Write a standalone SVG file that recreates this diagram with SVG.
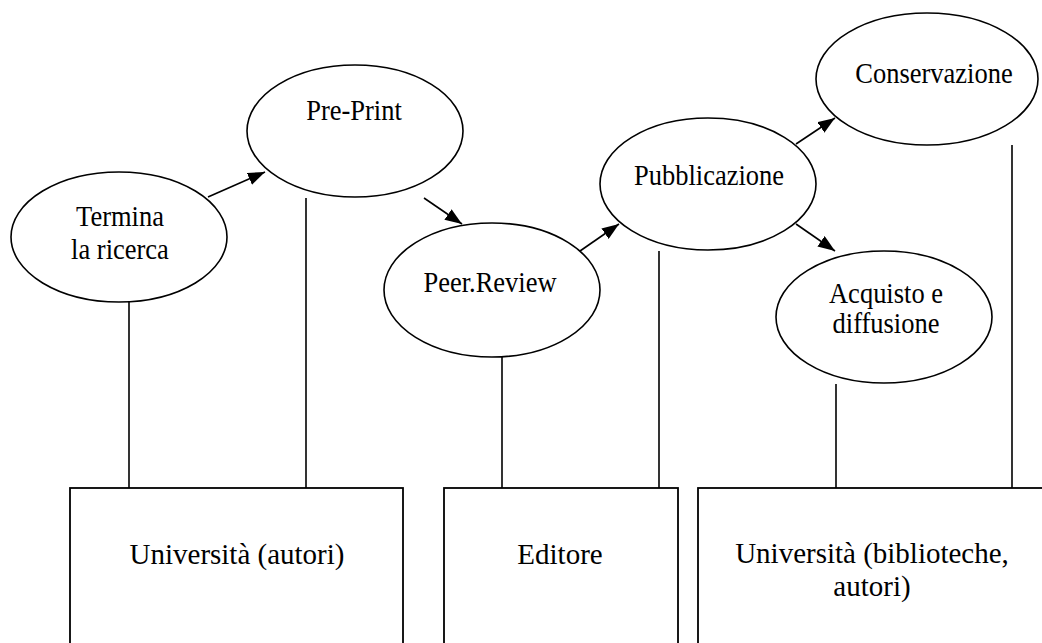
<svg xmlns="http://www.w3.org/2000/svg" width="1042" height="643" viewBox="0 0 1042 643">
<style>
.n{fill:#fff;stroke:#000;stroke-width:1.6}
.b{fill:#fff;stroke:#000;stroke-width:1.8}
.c line{stroke:#000;stroke-width:1.6}
.t{font-family:"Liberation Serif","Times New Roman",serif;font-size:26.5px;fill:#000;text-anchor:middle}
.tb{font-family:"Liberation Serif","Times New Roman",serif;font-size:29px;fill:#000;text-anchor:middle}
</style>
<defs>
<marker id="a" viewBox="0 0 16 12" refX="16" refY="6" markerWidth="17" markerHeight="13" markerUnits="userSpaceOnUse" orient="auto">
<path d="M0,0 L16,6 L0,12 z" fill="#000"/>
</marker>
</defs>
<rect width="1042" height="643" fill="#fff"/>
<g id="connectors" class="c">
<line x1="129" y1="302" x2="129" y2="488"/>
<line x1="306" y1="198" x2="306" y2="488"/>
<line x1="502" y1="357" x2="502" y2="488"/>
<line x1="659" y1="251" x2="659" y2="488"/>
<line x1="836" y1="384" x2="836" y2="488"/>
<line x1="1012" y1="145" x2="1012" y2="488"/>
<line x1="208" y1="197" x2="265" y2="172" marker-end="url(#a)"/>
<line x1="424" y1="198" x2="462" y2="224" marker-end="url(#a)"/>
<line x1="580" y1="251" x2="619" y2="224" marker-end="url(#a)"/>
<line x1="796" y1="144" x2="835" y2="118" marker-end="url(#a)"/>
<line x1="796" y1="224" x2="835" y2="251" marker-end="url(#a)"/>
</g>
<g id="termina">
<ellipse class="n" cx="119" cy="237" rx="108" ry="65"/>
<text class="t" transform="translate(120,226) scale(1,1.1)">Termina</text>
<text class="t" transform="translate(120,259) scale(1,1.1)">la ricerca</text>
</g>
<g id="preprint">
<ellipse class="n" cx="355" cy="131" rx="108" ry="66"/>
<text class="t" transform="translate(354,120) scale(1,1.1)">Pre-Print</text>
</g>
<g id="peerreview">
<ellipse class="n" cx="492" cy="290" rx="108" ry="67"/>
<text class="t" transform="translate(490,292) scale(1,1.1)">Peer.Review</text>
</g>
<g id="pubblicazione">
<ellipse class="n" cx="708" cy="184" rx="108" ry="66"/>
<text class="t" transform="translate(709,185) scale(1,1.1)">Pubblicazione</text>
</g>
<g id="conservazione">
<ellipse class="n" cx="927" cy="79" rx="111" ry="66"/>
<text class="t" transform="translate(934,83) scale(1,1.1)">Conservazione</text>
</g>
<g id="acquisto">
<ellipse class="n" cx="884" cy="317" rx="108" ry="66"/>
<text class="t" transform="translate(886,303) scale(1,1.1)">Acquisto e</text>
<text class="t" transform="translate(886,333) scale(1,1.1)">diffusione</text>
</g>
<g id="univ-autori">
<rect class="b" x="70" y="488" width="333" height="170"/>
<text class="tb" transform="translate(237,564) scale(1,1.05)">Università (autori)</text>
</g>
<g id="editore">
<rect class="b" x="444" y="488" width="234" height="170"/>
<text class="tb" transform="translate(560,564) scale(1,1.05)">Editore</text>
</g>
<g id="univ-biblioteche">
<rect class="b" x="698" y="488" width="360" height="170"/>
<text class="tb" transform="translate(872,563) scale(1,1.05)">Università (biblioteche,</text>
<text class="tb" transform="translate(872,596) scale(1,1.05)">autori)</text>
</g>
</svg>
